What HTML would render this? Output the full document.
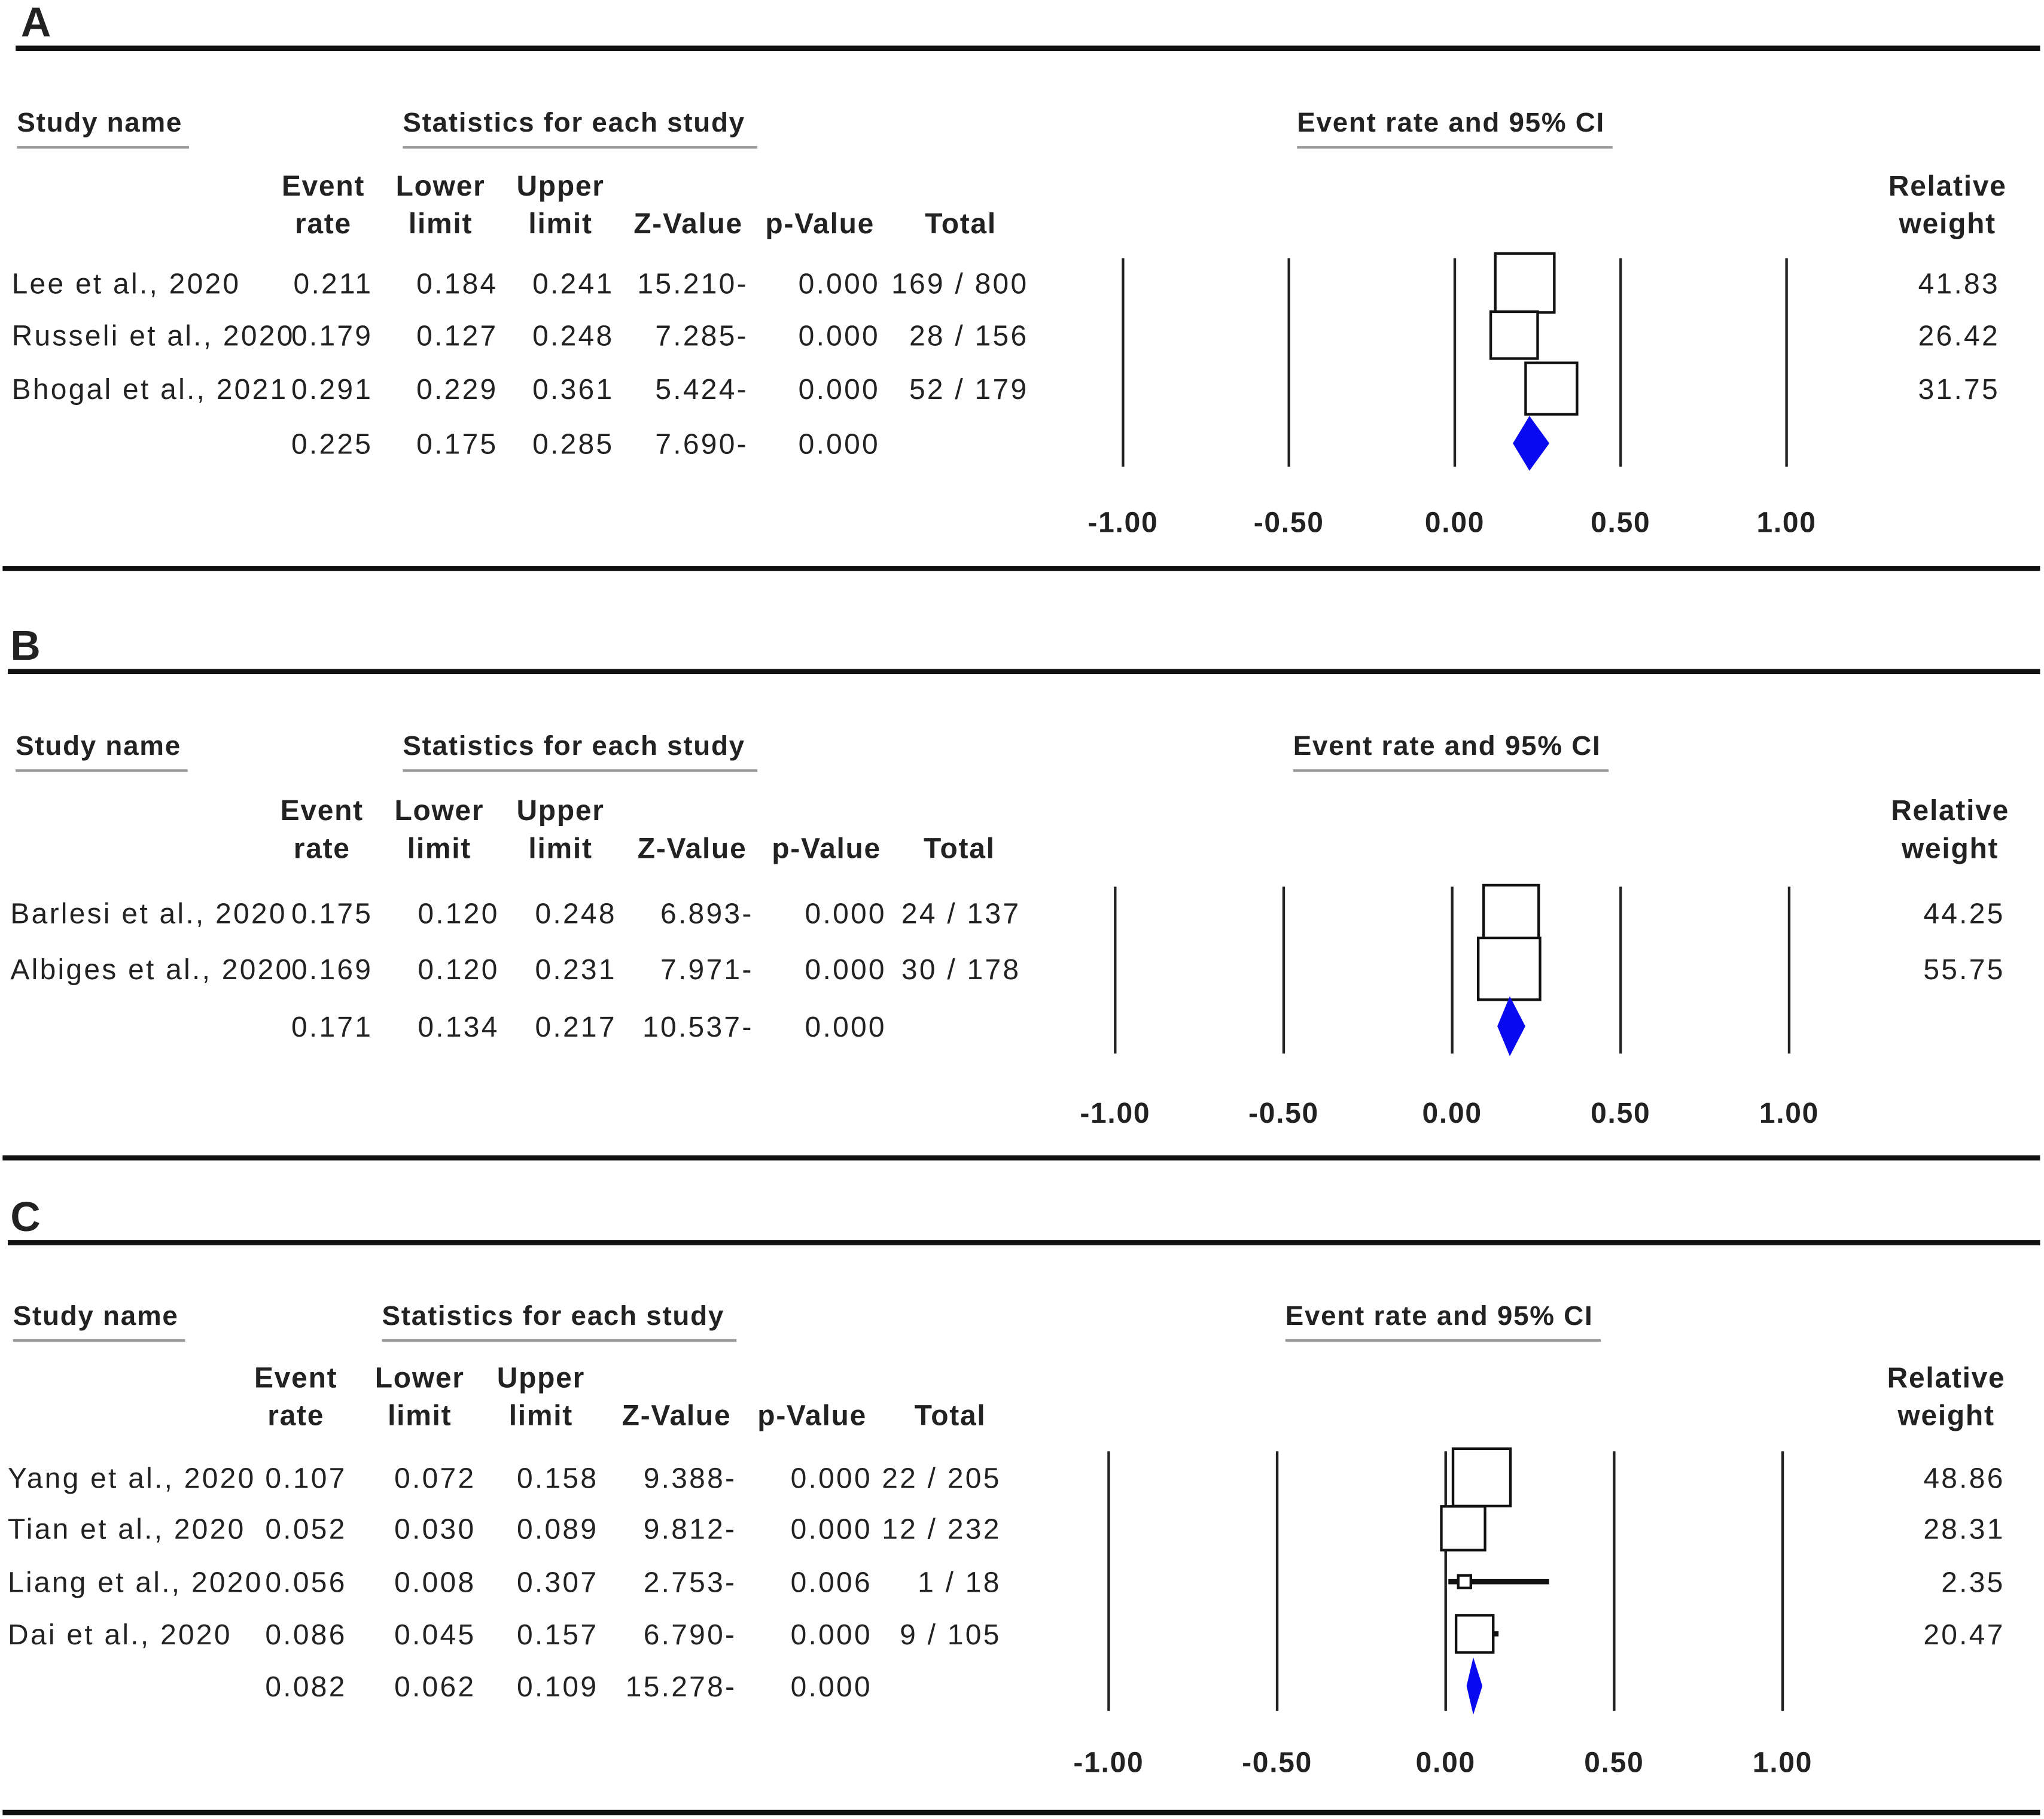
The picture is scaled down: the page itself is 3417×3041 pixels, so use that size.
<!DOCTYPE html>
<html><head><meta charset="utf-8">
<style>
html,body{margin:0;padding:0;background:#fff;}
svg{display:block;}
text{font-family:"Liberation Sans",Arial,sans-serif;fill:#222;letter-spacing:1.5px;}
.h{font-weight:bold;letter-spacing:0.8px;}
</style></head>
<body>
<svg id="chart" width="3417" height="3041" viewBox="0 0 1568 1395" preserveAspectRatio="none" xmlns="http://www.w3.org/2000/svg"></svg>
<script>
// Panel A data
const namesA = ["Lee et al., 2020","Russeli et al., 2020","Bhogal et al., 2021"];
const eventA = [0.211,0.179,0.291];
const lowerA = [0.184,0.127,0.229];
const upperA = [0.241,0.248,0.361];
const zA = ["15.210-","7.285-","5.424-"];
const pA = ["0.000","0.000","0.000"];
const totalA = ["169 / 800","28 / 156","52 / 179"];
const weightA = [41.83,26.42,31.75];
const summaryA = [0.225,0.175,0.285];
const summaryStatsA = ["7.690-","0.000"];
// Panel B data
const namesB = ["Barlesi et al., 2020","Albiges et al., 2020"];
const eventB = [0.175,0.169];
const lowerB = [0.120,0.120];
const upperB = [0.248,0.231];
const zB = ["6.893-","7.971-"];
const pB = ["0.000","0.000"];
const totalB = ["24 / 137","30 / 178"];
const weightB = [44.25,55.75];
const summaryB = [0.171,0.134,0.217];
const summaryStatsB = ["10.537-","0.000"];
// Panel C data
const namesC = ["Yang et al., 2020","Tian et al., 2020","Liang et al., 2020","Dai et al., 2020"];
const eventC = [0.107,0.052,0.056,0.086];
const lowerC = [0.072,0.030,0.008,0.045];
const upperC = [0.158,0.089,0.307,0.157];
const zC = ["9.388-","9.812-","2.753-","6.790-"];
const pC = ["0.000","0.000","0.006","0.000"];
const totalC = ["22 / 205","12 / 232","1 / 18","9 / 105"];
const weightC = [48.86,28.31,2.35,20.47];
const summaryC = [0.082,0.062,0.109];
const summaryStatsC = ["15.278-","0.000"];
// axis ticks
const tickValues = [-1,-0.5,0,0.5,1];
const tickLabels = ["-1.00","-0.50","0.00","0.50","1.00"];

const svg = document.getElementById('chart');
const NS = "http://www.w3.org/2000/svg";
function mk(tag, attrs, parent){
  const e = document.createElementNS(NS, tag);
  for (const k in attrs) e.setAttribute(k, attrs[k]);
  (parent||svg).appendChild(e);
  return e;
}
function txt(parent, x, y, s, anchor, cls, name){
  const t = mk('text', {x:x, y:y, 'font-size':22, 'text-anchor':anchor||'start'}, parent);
  if (cls) t.setAttribute('class', cls);
  t.textContent = s;
  
  
  return t;
}

function panel(cfg, d){
  const g = mk('g', {});
  
  
  const T = cfg.top;
  const L = txt(g, cfg.letterX, T+28, cfg.letter, 'start', 'h', 'panel-label');
  L.setAttribute('font-size', 32); L.setAttribute('font-weight','bold');
  const r1 = mk('rect', {x:cfg.ruleX, y:T+35, width:1565-cfg.ruleX, height:4, fill:'#111'}, g);
   
  const hy = T + cfg.hdrY;
  const heads = [[cfg.studyX+4, 'Study name', 'study-name-header'], [cfg.statX, 'Statistics for each study', 'statistics-header'], [cfg.ciX, 'Event rate and 95% CI', 'ci-header']];
  heads.forEach(h=>{
    const t = txt(g, h[0], hy, h[1], 'start', 'h', h[2]);
    t.setAttribute('font-size', 21);
  });
  [[cfg.studyX+4, 132],[cfg.statX, 272],[cfg.ciX, 242]].forEach(u=>{
    const l = mk('rect', {x:u[0], y:hy+11, width:u[1], height:2, fill:'#999'}, g);
     
  });
  const c = cfg.cols;
  const ch1 = T + cfg.colY, ch2 = ch1 + 29;
  const colHead = [[c.evC,'Event','rate'],[c.loC,'Lower','limit'],[c.upC,'Upper','limit'],[c.zC,'','Z-Value'],[c.pC,'','p-Value'],[c.tC,'','Total'],[c.wC,'Relative','weight']];
  colHead.forEach(h=>{
    if (h[1]) txt(g, h[0], ch1, h[1], 'middle', 'h', 'column-header');
    txt(g, h[0], ch2, h[2], 'middle', 'h', 'column-header');
  });
  const sx = v => cfg.x0 + v*cfg.unit;
  tickValues.forEach((v,i)=>{
    const ln = mk('line', {x1:sx(v), x2:sx(v), y1:T+cfg.vTop, y2:T+cfg.vBot, stroke:'#222', 'stroke-width':2}, g);
     
    txt(g, sx(v), T+cfg.tickY, tickLabels[i], 'middle', 'h', 'x-tick-label');
  });
  d.names.forEach((n,i)=>{
    const y = T + cfg.rowY[i], by = y + 8;
    txt(g, cfg.studyX, by, n, 'start', '', 'study-name');
    txt(g, c.ev, by, d.ev[i].toFixed(3), 'end', '', 'event-rate');
    txt(g, c.lo, by, d.lo[i].toFixed(3), 'end', '', 'lower-limit');
    txt(g, c.up, by, d.up[i].toFixed(3), 'end', '', 'upper-limit');
    txt(g, c.z, by, d.z[i], 'end', '', 'z-value');
    txt(g, c.p, by, d.p[i], 'end', '', 'p-value');
    txt(g, c.t, by, d.t[i], 'end', '', 'total');
    txt(g, c.w, by, d.w[i].toFixed(2), 'end', '', 'relative-weight');
    const ci = mk('line', {x1:sx(d.lo[i]), x2:sx(d.up[i]), y1:y, y2:y, stroke:'#111', 'stroke-width':4}, g);
     
    const s = Math.max(8, cfg.boxK*Math.sqrt(d.w[i]));
    const b = mk('rect', {x:sx(d.ev[i])-s/2, y:y-s/2, width:s, height:s, fill:'#fff', stroke:'#111', 'stroke-width':2}, g);
     
  });
  const sy = T + cfg.sumY, sb = sy + 8;
  txt(g, c.ev, sb, d.sum[0].toFixed(3), 'end', '', 'summary-event-rate');
  txt(g, c.lo, sb, d.sum[1].toFixed(3), 'end', '', 'summary-lower');
  txt(g, c.up, sb, d.sum[2].toFixed(3), 'end', '', 'summary-upper');
  txt(g, c.z, sb, d.ss[0], 'end', '', 'summary-z-value');
  txt(g, c.p, sb, d.ss[1], 'end', '', 'summary-p-value');
  const h = cfg.dH;
  const dm = mk('polygon', {points:[sx(d.sum[1])+','+sy, sx(d.sum[0])+','+(sy-h), sx(d.sum[2])+','+sy, sx(d.sum[0])+','+(sy+h)].join(' '), fill:'#0a0af0'}, g);
   
  const r2 = mk('rect', {x:2, y:T+cfg.botY, width:1563, height:4, fill:'#111'}, g);
   
}

panel({letter:'A', letterX:16, ruleX:12, top:0, hdrY:101, colY:150, studyX:9, statX:309, ciX:995,
  cols:{ev:286, lo:382, up:471, z:574, p:675, t:789, w:1534, evC:248, loC:338, upC:430, zC:528, pC:629, tC:737, wC:1494},
  x0:1116, unit:254.5, vTop:198, vBot:358, tickY:408, rowY:[217,257,298], sumY:340, boxK:7, dH:21, botY:434},
  {names:namesA, ev:eventA, lo:lowerA, up:upperA, z:zA, p:pA, t:totalA, w:weightA, sum:summaryA, ss:summaryStatsA});

panel({letter:'B', letterX:8, ruleX:6, top:478, hdrY:101, colY:151, studyX:8, statX:309, ciX:992,
  cols:{ev:286, lo:383, up:473, z:578, p:680, t:783, w:1538, evC:247, loC:337, upC:430, zC:531, pC:634, tC:736, wC:1496},
  x0:1114, unit:258.5, vTop:202, vBot:330, tickY:383, rowY:[222,265], sumY:309, boxK:6.35, dH:23, botY:408},
  {names:namesB, ev:eventB, lo:lowerB, up:upperB, z:zB, p:pB, t:totalB, w:weightB, sum:summaryB, ss:summaryStatsB});

panel({letter:'C', letterX:8, ruleX:6, top:916, hdrY:100, colY:148, studyX:6, statX:293, ciX:986,
  cols:{ev:266, lo:365, up:459, z:565, p:669, t:768, w:1538, evC:227, loC:322, upC:415, zC:519, pC:623, tC:729, wC:1493},
  x0:1109, unit:258.5, vTop:197, vBot:396, tickY:443, rowY:[217,256,297,337], sumY:377, boxK:6.3, dH:22, botY:472},
  {names:namesC, ev:eventC, lo:lowerC, up:upperC, z:zC, p:pC, t:totalC, w:weightC, sum:summaryC, ss:summaryStatsC});
</script>
</body></html>
